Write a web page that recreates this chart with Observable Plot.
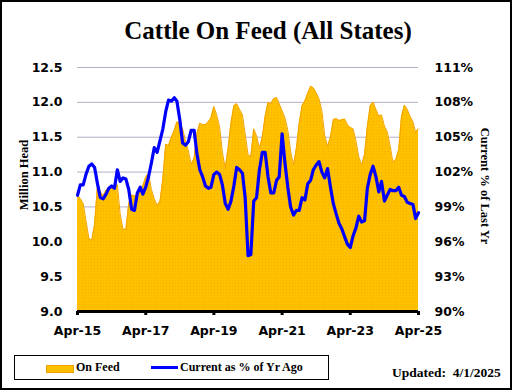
<!DOCTYPE html>
<html>
<head>
<meta charset="utf-8">
<script src="https://cdn.jsdelivr.net/npm/d3@7"></script>
<script src="https://cdn.jsdelivr.net/npm/@observablehq/plot@0.6"></script>
<style>
  html, body { margin: 0; padding: 0; background: #fff; }
  #frame { position: absolute; left: 0; top: 0; width: 512px; height: 390px; box-sizing: border-box; border: 2px solid #000; }
  #chart { position: absolute; left: 0; top: 0; }
  .serif { font-family: "Liberation Serif", "Times New Roman", serif; font-weight: bold; color: #000; }
  #title { position: absolute; left: 0; width: 536px; top: 17px; text-align: center; font-size: 25px; }
  #ylab { position: absolute; left: 24px; top: 175px; font-size: 12.5px; transform: translate(-50%, -50%) rotate(-90deg); white-space: nowrap; }
  #ylab2 { position: absolute; left: 484px; top: 186px; font-size: 12.5px; transform: translate(-50%, -50%) rotate(90deg); white-space: nowrap; }
  #legend { position: absolute; left: 14px; top: 355px; width: 315px; height: 25px; box-sizing: border-box; border: 1px solid #000; font-size: 12px; }
  .sw1 { position: absolute; left: 31px; top: 9px; width: 26px; height: 6px; background: #FFC000; border: 1px solid #F0A000; }
  .t1 { position: absolute; left: 61px; top: 4px; }
  .sw2 { position: absolute; left: 136px; top: 10px; width: 27px; height: 3px; background: #0000FF; }
  .t2 { position: absolute; left: 165px; top: 4px; }
  #updated { position: absolute; left: 392px; top: 365px; font-size: 13.5px; white-space: nowrap; }
</style>
</head>
<body>
<div id="frame"></div>
<div id="chart"></div>
<div id="title" class="serif">Cattle On Feed (All States)</div>
<div id="ylab" class="serif">Million Head</div>
<div id="ylab2" class="serif">Current % of Last Yr</div>
<div id="legend" class="serif"><div class="sw1"></div><span class="t1">On Feed</span><div class="sw2"></div><span class="t2">Current as % of Yr Ago</span></div>
<div id="updated" class="serif">Updated:&nbsp; 4/1/2025</div>
<script>
// Monthly, Apr-2015 .. Apr-2025
const startYear = 2015, startMonth = 3; // April
const onFeed = [
  10.67,10.62,10.55,10.30,10.05,10.02,10.25,10.80,10.72,10.66,10.74,10.77,
  10.77,10.80,10.82,10.40,10.18,10.18,10.55,10.67,10.66,10.65,10.72,10.80,
  10.93,10.98,10.75,10.62,10.52,10.58,10.90,11.40,11.38,11.50,11.60,11.72,
  11.70,11.62,11.45,11.31,11.11,11.20,11.55,11.70,11.68,11.68,11.72,11.78,
  11.94,11.82,11.65,11.29,11.05,11.35,11.70,11.95,11.98,11.90,11.82,11.55,
  11.25,11.22,11.62,11.52,11.34,11.50,11.80,12.00,11.98,12.05,12.07,11.98,
  11.88,11.78,11.60,11.30,11.10,11.34,11.70,11.95,12.02,12.13,12.23,12.21,
  12.14,12.05,11.88,11.53,11.37,11.50,11.75,11.77,11.74,11.75,11.76,11.68,
  11.64,11.62,11.45,11.22,11.10,11.25,11.65,11.95,12.00,11.90,11.80,11.82,
  11.66,11.58,11.38,11.14,11.18,11.32,11.80,11.96,11.90,11.80,11.72,11.57,
  11.62
];
const pctYrAgo = [
  100.0,100.9,100.9,101.8,102.5,102.7,102.4,101.0,99.8,99.7,100.1,100.6,
  100.8,100.6,102.2,101.2,101.5,101.4,100.5,98.8,98.7,100.2,100.7,100.1,
  100.7,101.6,102.8,104.1,103.7,104.7,105.7,107.2,108.2,108.1,108.4,108.1,
  106.5,104.5,104.3,104.6,105.6,105.6,103.6,102.2,101.6,100.8,100.6,100.7,
  101.8,102.0,101.8,100.9,99.3,98.8,99.5,100.8,102.4,102.2,101.9,99.8,
  94.8,94.9,99.5,99.8,102.2,103.7,103.7,101.6,100.2,100.2,101.3,101.6,
  105.3,102.8,100.7,99.0,98.3,98.7,98.7,99.8,99.6,101.0,101.3,102.2,
  102.6,102.9,102.0,101.5,102.3,100.7,99.3,98.4,97.6,97.1,96.4,95.8,
  95.5,96.5,97.2,98.2,97.7,97.8,100.6,101.8,102.5,101.6,100.3,101.2,
  99.5,100.0,100.5,100.4,100.4,100.7,100.0,99.9,99.4,99.3,99.2,98.0,
  98.5
];
const xTickYears = [2015, 2017, 2019, 2021, 2023, 2025];
const leftTicks = [9.0, 9.5, 10.0, 10.5, 11.0, 11.5, 12.0, 12.5];
const rightTickLabels = ["90%", "93%", "96%", "99%", "102%", "105%", "108%", "111%"];

const data = onFeed.map((v, i) => ({
  date: new Date(Date.UTC(startYear, startMonth + i, 1)),
  feed: v,
  pct: pctYrAgo[i],
  pctL: 9 + (pctYrAgo[i] - 90) / 6
}));
const xTicks = xTickYears.map(y => new Date(Date.UTC(y, 3, 1)));
const fmtX = d3.utcFormat("%b-%y");
const ff = "'DejaVu Sans', Verdana, sans-serif";

const chart = Plot.plot({
  width: 512,
  height: 345,
  marginLeft: 77,
  marginRight: 94,
  marginTop: 67,
  marginBottom: 34,
  style: { background: "transparent", overflow: "visible" },
  x: { type: "utc", domain: [new Date(Date.UTC(2015, 3, 1)), new Date(Date.UTC(2025, 3, 1))] },
  y: { domain: [9, 12.5] },
  marks: [
    Plot.ruleY(leftTicks, { stroke: "#B4AEC6", strokeWidth: 1 }),
    Plot.areaY(data, { x: "date", y1: 9, y2: "feed", fill: "url(#dots)" }),
    Plot.lineY(data, { x: "date", y: "feed", stroke: "#F5A300", strokeWidth: 1 }),
    Plot.lineY(data, { x: "date", y: "pctL", stroke: "#0000FF", strokeWidth: 3.2 }),
    Plot.ruleY([9], { stroke: "#000", strokeWidth: 3 }),
    Plot.axisX({ ticks: xTicks, tickFormat: fmtX, tickSize: 4, strokeWidth: 3, tickPadding: 11, fontSize: 12.5, fontFamily: ff, fontWeight: "bold", fill: "#000", stroke: "#000", label: null }),
    Plot.axisY({ anchor: "left", ticks: leftTicks, tickFormat: d3.format(".1f"), tickSize: 0, tickPadding: 15, fontSize: 12.5, fontFamily: ff, fontWeight: "bold", fill: "#000", label: null }),
    Plot.axisY({ anchor: "right", ticks: leftTicks, tickFormat: d => rightTickLabels[leftTicks.indexOf(d)], tickSize: 0, tickPadding: 16, fontSize: 12.5, fontFamily: ff, fontWeight: "bold", fill: "#000", label: null })
  ]
});

const ns = "http://www.w3.org/2000/svg";
const defs = document.createElementNS(ns, "defs");
defs.innerHTML = '<pattern id="dots" width="3" height="3" patternUnits="userSpaceOnUse"><rect width="3" height="3" fill="#FFC000"/><rect x="1" y="1" width="1" height="1" fill="#F3B100"/></pattern>';
chart.insertBefore(defs, chart.firstChild);
document.getElementById("chart").appendChild(chart);
</script>
</body>
</html>
